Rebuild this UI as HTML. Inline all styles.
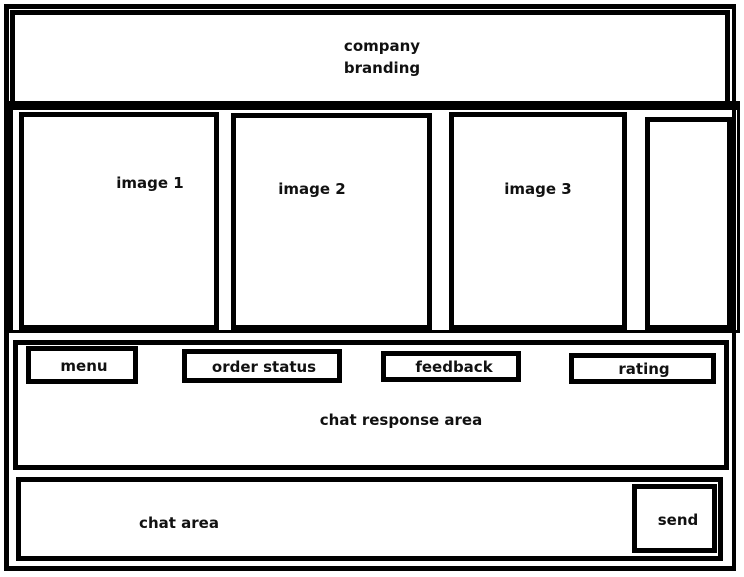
<!DOCTYPE html>
<html><head><meta charset="utf-8"><style>
html,body{margin:0;padding:0;background:#fff;width:744px;height:577px;overflow:hidden;position:relative}
.b{position:absolute;box-sizing:border-box;border:5px solid #000;background:transparent}
.t{position:absolute;font-family:"DejaVu Sans","Liberation Sans",sans-serif;font-weight:bold;font-size:15px;color:#111;white-space:nowrap;transform:translateX(-50%);line-height:1}
</style></head><body>
<div class="b" style="left:4px;top:4px;width:732px;height:567px;border-width:5px 4px 5px 5px"></div>
<div class="b" style="left:10px;top:10px;width:720px;height:97px;border-width:5px"></div>
<div class="b" style="left:4px;top:101px;width:736px;height:232px;border-width:9px 3px 3px 9px"></div>
<div class="b" style="left:19px;top:112px;width:200px;height:218px"></div>
<div class="b" style="left:231px;top:113px;width:201px;height:217px"></div>
<div class="b" style="left:449px;top:112px;width:178px;height:218px"></div>
<div class="b" style="left:645px;top:117px;width:87px;height:213px"></div>
<div class="b" style="left:13px;top:340px;width:716px;height:130px"></div>
<div class="b" style="left:26px;top:346px;width:112px;height:38px"></div>
<div class="b" style="left:182px;top:349px;width:160px;height:34px"></div>
<div class="b" style="left:381px;top:351px;width:140px;height:31px"></div>
<div class="b" style="left:569px;top:353px;width:147px;height:31px"></div>
<div class="b" style="left:16px;top:477px;width:707px;height:84px"></div>
<div class="b" style="left:632px;top:484px;width:85px;height:69px"></div>
<div class="t" style="left:382px;top:39px">company</div>
<div class="t" style="left:382px;top:61px">branding</div>
<div class="t" style="left:150px;top:176px">image 1</div>
<div class="t" style="left:312px;top:182px">image 2</div>
<div class="t" style="left:538px;top:182px">image 3</div>
<div class="t" style="left:84px;top:359px">menu</div>
<div class="t" style="left:264px;top:360px">order status</div>
<div class="t" style="left:454px;top:360px">feedback</div>
<div class="t" style="left:644px;top:362px">rating</div>
<div class="t" style="left:401px;top:413px">chat response area</div>
<div class="t" style="left:179px;top:516px">chat area</div>
<div class="t" style="left:678px;top:513px">send</div>
</body></html>
